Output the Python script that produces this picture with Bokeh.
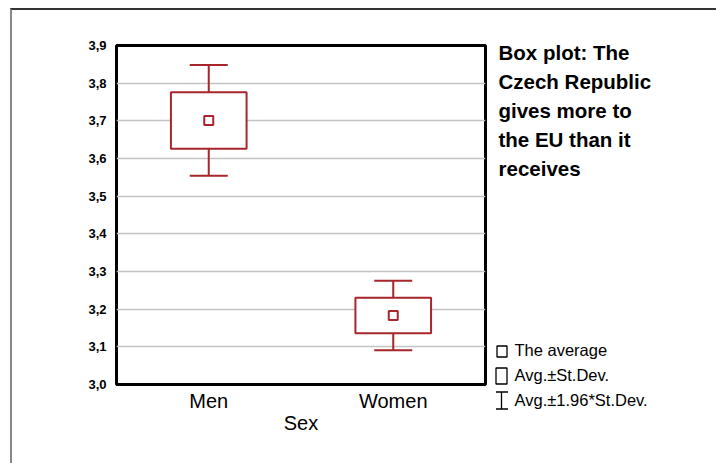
from bokeh.plotting import figure
from bokeh.layouts import row
from bokeh.models import FactorRange, Range1d, FixedTicker, TeeHead, ColumnDataSource, Whisker
from bokeh.core.properties import value
from bokeh.embed import file_html
from bokeh.resources import INLINE

# Group statistics
groups = ["Men", "Women"]
means = [3.701, 3.183]
std_devs = [0.075, 0.047]

# Axis ticks
y_ticks = [3.0, 3.1, 3.2, 3.3, 3.4, 3.5, 3.6, 3.7, 3.8, 3.9]
y_tick_labels = ["3,0", "3,1", "3,2", "3,3", "3,4", "3,5", "3,6", "3,7", "3,8", "3,9"]

title_lines = ["Box plot: The", "Czech Republic", "gives more to", "the EU than it", "receives"]
legend_labels = ["The average", "Avg.\u00b1St.Dev.", "Avg.\u00b11.96*St.Dev."]

RED = "#a6262b"
FONT = "Liberation Sans"

box_top = [m + s for m, s in zip(means, std_devs)]
box_bottom = [m - s for m, s in zip(means, std_devs)]
whisk_hi = [m + 1.96 * s for m, s in zip(means, std_devs)]
whisk_lo = [m - 1.96 * s for m, s in zip(means, std_devs)]

src = ColumnDataSource(dict(group=groups, mean=means, top=box_top, bottom=box_bottom,
                            hi=whisk_hi, lo=whisk_lo))

# ---- main box plot ----
p = figure(x_range=FactorRange(*groups, range_padding=0), y_range=Range1d(3.0, 3.9),
           width=478, height=453, min_border_left=104, min_border_right=5,
           min_border_top=35, min_border_bottom=79, frame_align=False,
           output_backend="svg", toolbar_location=None)

p.outline_line_color = "black"
p.outline_line_width = 3
p.background_fill_color = "white"
p.border_fill_color = "white"

p.xgrid.visible = False
p.ygrid.grid_line_color = "#c4c4c4"
p.ygrid.grid_line_width = 1.5

p.yaxis.ticker = FixedTicker(ticks=y_ticks)
p.yaxis.major_label_overrides = {t: lab for t, lab in zip(y_ticks, y_tick_labels)}
p.yaxis.axis_line_color = None
p.yaxis.major_tick_line_color = None
p.yaxis.minor_tick_line_color = None
p.yaxis.major_label_text_font = FONT
p.yaxis.major_label_text_font_style = "bold"
p.yaxis.major_label_text_font_size = "13px"
p.yaxis.major_label_text_color = "black"
p.yaxis.major_label_standoff = 4

p.xaxis.axis_line_color = None
p.xaxis.major_tick_line_color = None
p.xaxis.minor_tick_line_color = None
p.xaxis.major_label_text_font = FONT
p.xaxis.major_label_text_font_size = "20px"
p.xaxis.major_label_text_color = "black"
p.xaxis.major_label_standoff = -1
p.xaxis.axis_label = "Sex"
p.xaxis.axis_label_text_font = FONT
p.xaxis.axis_label_text_font_size = "20px"
p.xaxis.axis_label_text_font_style = "normal"
p.xaxis.axis_label_text_color = "black"
p.xaxis.axis_label_standoff = -3

# whiskers: mean +/- 1.96 SD
p.add_layout(Whisker(source=src, base="group", upper="hi", lower="lo",
                     line_color=RED, line_width=2,
                     upper_head=TeeHead(size=38, line_color=RED, line_width=2),
                     lower_head=TeeHead(size=38, line_color=RED, line_width=2)))

# boxes: mean +/- SD
p.vbar(x="group", top="top", bottom="bottom", width=0.41, source=src,
       fill_color="white", line_color=RED, line_width=2)

# mean markers
p.scatter(x="group", y="mean", marker="square", size=9, source=src,
          fill_color="white", line_color=RED, line_width=2)

# ---- side panel: title and key (pixel coordinates, y pointing down) ----
side = figure(width=226, height=453, x_range=Range1d(490, 716), y_range=Range1d(463, 10),
              min_border=0, x_axis_location=None, y_axis_location=None, frame_align=False,
              output_backend="svg", toolbar_location=None)
side.outline_line_color = None
side.grid.visible = False
side.background_fill_color = "white"
side.border_fill_color = "white"

side.text(x=[498] * len(title_lines), y=[52 + 29 * i for i in range(len(title_lines))],
          text=title_lines, text_font=value(FONT), text_font_style="bold",
          text_font_size="20.5px", text_baseline="middle", text_color="black")

side.text(x=[514] * len(legend_labels), y=[349.5 + 25 * i for i in range(len(legend_labels))],
          text=legend_labels, text_font=value(FONT), text_font_size="16.5px",
          text_baseline="middle", text_color="black")

# key symbols: mean square, SD box, 1.96*SD whisker
side.quad(left=[496.5, 495.5], right=[506.5, 506.5], top=[345.5, 367.5], bottom=[356.5, 383.5],
          fill_color=None, line_color="black", line_width=1.3)
side.segment(x0=[501, 495.5, 495.5], y0=[391.5, 391.5, 408.5],
             x1=[501, 507.5, 507.5], y1=[408.5, 391.5, 408.5],
             line_color="black", line_width=1.3)

layout = row(p, side, styles={"margin-left": "10px", "margin-top": "8px",
                              "border-top": "2px solid #333333",
                              "border-left": "2px solid #888888"})

open("out.html", "w").write(file_html(layout, INLINE))
